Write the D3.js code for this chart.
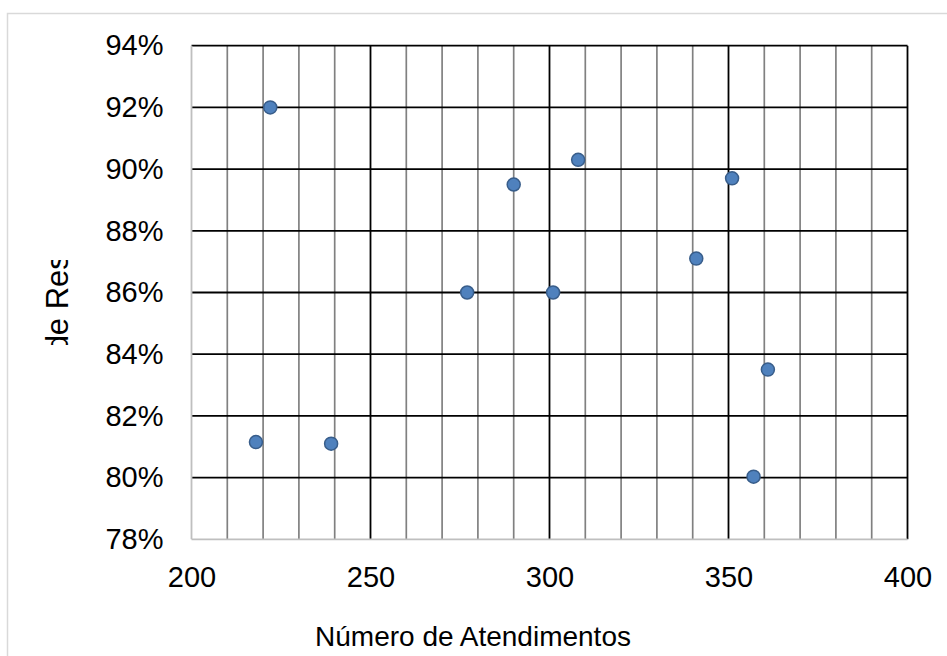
<!DOCTYPE html>
<head>
  <meta charset="utf-8" />
  <script src="https://d3js.org/d3.v7.min.js"></script>
  <style>
    body {
      margin: 0;
      background: #fff;
    }
    text {
      font-family: "Liberation Sans", Arial, sans-serif;
      fill: #000;
    }
  </style>
</head>
<body>
<div id="chart"></div>
<script>

// data
var atendimentos = [222, 218, 239, 277, 290, 301, 308, 341, 351, 361, 357];
var taxa = [0.920, 0.8115, 0.811, 0.860, 0.895, 0.860, 0.903, 0.871, 0.897, 0.835, 0.8003];
var xTicks = [200, 250, 300, 350, 400];
var xMinor = d3.range(200, 401, 10);
var yTicks = [0.78, 0.80, 0.82, 0.84, 0.86, 0.88, 0.90, 0.92, 0.94];
var xTitle = "Número de Atendimentos";
var yTitle = "Taxa de Resolução";

var W = 947, H = 656;
var margin = {top: 45.7, right: 39.5, bottom: 116.7, left: 191.5},
    width = W - margin.left - margin.right,
    height = H - margin.top - margin.bottom;

var root = d3.select("#chart")
  .append("svg")
  .attr("width", W)
  .attr("height", H);

// chart area frame (runs off the window on right / bottom)
root.append("rect")
  .attr("x", 7.5).attr("y", 13.5)
  .attr("width", W + 20).attr("height", H + 20)
  .attr("fill", "none")
  .attr("stroke", "#d9d9d9")
  .attr("stroke-width", 1.5);

var svg = root.append("g")
  .attr("transform", "translate(" + margin.left + "," + margin.top + ")");

var x = d3.scaleLinear().domain([200, 400]).range([0, width]);
var y = d3.scaleLinear().domain([0.78, 0.94]).range([height, 0]);

// minor vertical grid
svg.append("g")
  .selectAll("line")
  .data(xMinor.filter(function(d) { return d % 50 != 0; }))
  .enter().append("line")
    .attr("x1", function(d) { return x(d); })
    .attr("x2", function(d) { return x(d); })
    .attr("y1", 0).attr("y2", height)
    .attr("stroke", "#808080")
    .attr("stroke-width", 1.7);

// major vertical grid
svg.append("g")
  .selectAll("line")
  .data(xTicks.slice(1))
  .enter().append("line")
    .attr("x1", function(d) { return x(d); })
    .attr("x2", function(d) { return x(d); })
    .attr("y1", 0).attr("y2", height)
    .attr("stroke", "#000")
    .attr("stroke-width", 1.8);

// horizontal grid
svg.append("g")
  .selectAll("line")
  .data(yTicks.slice(1))
  .enter().append("line")
    .attr("x1", 0).attr("x2", width)
    .attr("y1", function(d) { return y(d); })
    .attr("y2", function(d) { return y(d); })
    .attr("stroke", "#000")
    .attr("stroke-width", 1.8);

// axis lines
svg.append("line")
  .attr("x1", 0).attr("x2", width)
  .attr("y1", height).attr("y2", height)
  .attr("stroke", "#bfbfbf").attr("stroke-width", 1.8);
svg.append("line")
  .attr("x1", 0).attr("x2", 0)
  .attr("y1", 0).attr("y2", height)
  .attr("stroke", "#bfbfbf").attr("stroke-width", 1.8);

// X axis labels
var xAxis = svg.append("g")
  .attr("transform", "translate(0," + height + ")")
  .call(d3.axisBottom(x).tickValues(xTicks).tickSize(0).tickPadding(27));
xAxis.select(".domain").remove();
xAxis.selectAll("text")
  .attr("font-size", "29px")
  .attr("font-family", "Liberation Sans, Arial, sans-serif")
  .attr("fill", "#000");

// Y axis labels
var yAxis = svg.append("g")
  .call(d3.axisLeft(y).tickValues(yTicks).tickFormat(d3.format(".0%")).tickSize(0).tickPadding(28));
yAxis.select(".domain").remove();
yAxis.selectAll("text")
  .attr("font-size", "29px")
  .attr("font-family", "Liberation Sans, Arial, sans-serif")
  .attr("fill", "#000");

// points
svg.append("g")
  .selectAll("circle")
  .data(atendimentos)
  .enter().append("circle")
    .attr("cx", function(d) { return x(d); })
    .attr("cy", function(d, i) { return y(taxa[i]); })
    .attr("r", 6.5)
    .attr("fill", "#4f81bd")
    .attr("stroke", "#385d8a")
    .attr("stroke-width", 1.5);

// X title
root.append("text")
  .attr("x", 473)
  .attr("y", 646)
  .attr("text-anchor", "middle")
  .attr("font-size", "28px")
  .text(xTitle);

// Y title: clipped by the layout, only "de Re" shows
root.append("clipPath")
  .attr("id", "yclip")
  .append("rect")
    .attr("x", -45).attr("y", -40)
    .attr("width", 85).attr("height", 52);

var yt = root.append("g")
  .attr("transform", "translate(68,300) rotate(-90)")
  .attr("clip-path", "url(#yclip)");
var ytext = yt.append("text")
  .attr("font-size", "31px")
  .attr("x", 0)
  .text(yTitle);
var k = yTitle.indexOf("de Re");
var pre = ytext.node().getSubStringLength(0, k);
var vis = ytext.node().getSubStringLength(k, 5);
ytext.attr("x", -(pre + vis / 2) - 11);

</script>
</body>
</html>
